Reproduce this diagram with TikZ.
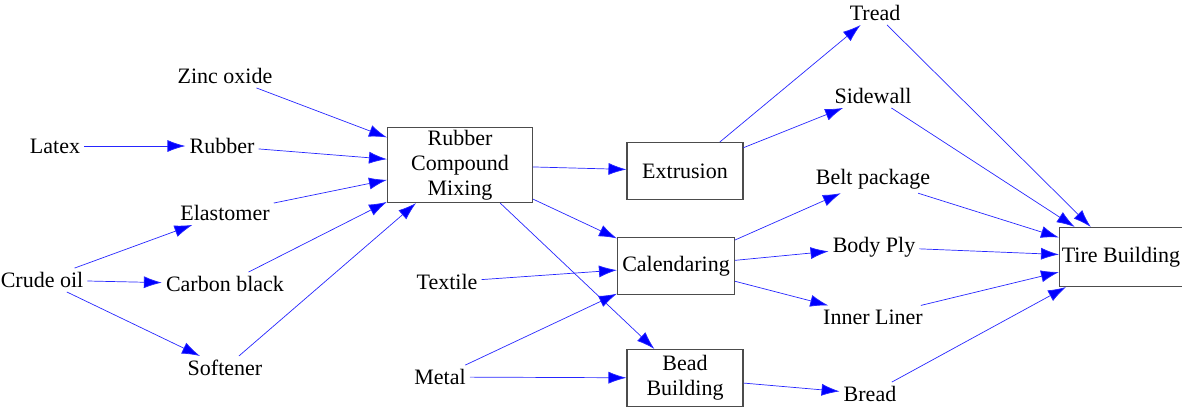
\documentclass[tikz,border=0pt]{standalone}
\usepackage{fontspec}
\setmainfont{Liberation Serif}
\usetikzlibrary{arrows.meta}

\begin{document}
\begin{tikzpicture}[x=1pt, y=-1pt,
        lbl/.style={inner sep=4pt, font=\fontsize{22}{25}\selectfont},
        procbox/.style={draw=black!70, fill=white, line width=1.1pt, align=center, inner sep=1pt,
                        font=\fontsize{22}{25}\selectfont},
        flow/.style={blue!85, line width=0.7pt, -{Latex[length=18pt, width=12pt, fill=blue]}}]
        \useasboundingbox (0,0) rectangle (1182,408);

        % raw materials
        \node[lbl] (zinc)    at (225,76)  {Zinc oxide};
        \node[lbl] (latex)   at (55,146)  {Latex};
        \node[lbl] (rubber)  at (222,146) {Rubber};
        \node[lbl] (elast)   at (225,213) {Elastomer};
        \node[lbl] (crude)   at (42,280)  {Crude oil};
        \node[lbl] (carbon)  at (225,284) {Carbon black};
        \node[lbl] (soft)    at (225,368) {Softener};
        \node[lbl] (textile) at (447,282) {Textile};
        \node[lbl] (metal)   at (440,377) {Metal};

        % processes
        \node[procbox, minimum width=145, minimum height=75] (mixing) at (460,165) {Rubber\\Compound\\Mixing};
        \node[procbox, minimum width=116, minimum height=57] (extr)   at (685,171) {Extrusion};
        \node[procbox, minimum width=117, minimum height=57] (cal)    at (676,266) {Calendaring};
        \node[procbox, minimum width=116, minimum height=57] (bead)   at (685,378) {Bead\\Building};
        \node[procbox, minimum width=123, minimum height=59] (tire)   at (1121,257) {Tire Building};

        % components
        \node[lbl] (tread)  at (875,13)  {Tread};
        \node[lbl] (side)   at (873,96)  {Sidewall};
        \node[lbl] (belt)   at (873,179) {Belt package};
        \node[lbl] (body)   at (874,247) {Body Ply};
        \node[lbl] (inner)  at (873,317) {Inner Liner};
        \node[lbl] (bread)  at (870,394) {Bread};

        \draw[flow] (latex) -- (rubber);
        \draw[flow] (crude) -- (elast);
        \draw[flow] (crude) -- (carbon);
        \draw[flow] (crude) -- (soft);
        \foreach \src in {zinc, rubber, elast, carbon, soft}
            \draw[flow] (\src) -- (mixing);

        \draw[flow] (mixing) -- (extr);
        \draw[flow] (mixing) -- (cal);
        \draw[flow] (mixing) -- (bead);
        \draw[flow] (textile) -- (cal);
        \draw[flow] (metal) -- (cal);
        \draw[flow] (metal) -- (bead);

        \draw[flow] (extr) -- (tread);
        \draw[flow] (extr) -- (side);
        \draw[flow] (cal) -- (belt);
        \draw[flow] (cal) -- (body);
        \draw[flow] (cal) -- (inner);
        \draw[flow] (bead) -- (bread);

        \foreach \src in {tread, side, belt, body, inner, bread}
            \draw[flow] (\src) -- (tire);
    \end{tikzpicture}
\end{document}
